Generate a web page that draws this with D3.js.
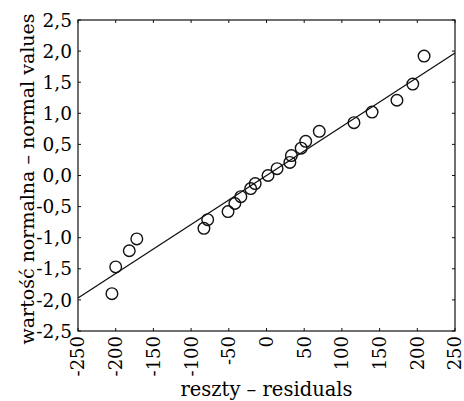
<!DOCTYPE html>
<html>
<head>
<meta charset="utf-8">
<script src="https://cdn.jsdelivr.net/npm/d3@7"></script>
<style>
  body { margin: 0; background: #fff; }
  text { font-family: "DejaVu Serif", serif; fill: #000; }
</style>
</head>
<body>
<div id="chart"></div>
<script>
// residuals vs expected normal values
var residuals = [-205, -200, -182, -172, -83, -78, -51, -42, -34, -21, -15, 2, 14, 31, 33, 46, 52, 70, 116, 140, 173, 194, 209];
var normalVals = [-1.90, -1.47, -1.21, -1.02, -0.85, -0.71, -0.58, -0.45, -0.34, -0.21, -0.13, 0.0, 0.11, 0.21, 0.32, 0.44, 0.55, 0.71, 0.85, 1.02, 1.21, 1.47, 1.92];
var fitLine = [[-250, -1.97], [250, 1.97]];
var xTicks = [-250, -200, -150, -100, -50, 0, 50, 100, 150, 200, 250];
var yTicks = [-2.5, -2, -1.5, -1, -0.5, 0, 0.5, 1, 1.5, 2, 2.5];

var width = 464, height = 401;
var margin = {top: 20, right: 9, bottom: 70, left: 78};

var svg = d3.select("#chart").append("svg").attr("width", width).attr("height", height);

var x = d3.scaleLinear().domain([-250, 250]).range([margin.left, width - margin.right]);
var y = d3.scaleLinear().domain([-2.5, 2.5]).range([height - margin.bottom, margin.top]);

var fmtY = function(d) { return d3.format(".1f")(d).replace(".", ",").replace("−", "-"); };

// frame
svg.append("rect")
    .attr("x", x(-250)).attr("y", y(2.5))
    .attr("width", x(250) - x(-250)).attr("height", y(-2.5) - y(2.5))
    .attr("fill", "none").attr("stroke", "#111").attr("stroke-width", 1.2);

// inward ticks on all sides
var tk = 3;
svg.selectAll(".tb").data(xTicks).enter().append("line")
    .attr("x1", d => x(d)).attr("x2", d => x(d))
    .attr("y1", y(-2.5)).attr("y2", y(-2.5) - tk)
    .attr("stroke", "#111");
svg.selectAll(".tt").data(xTicks).enter().append("line")
    .attr("x1", d => x(d)).attr("x2", d => x(d))
    .attr("y1", y(2.5)).attr("y2", y(2.5) + tk)
    .attr("stroke", "#111");
svg.selectAll(".tl").data(yTicks).enter().append("line")
    .attr("x1", x(-250)).attr("x2", x(-250) + tk)
    .attr("y1", d => y(d)).attr("y2", d => y(d))
    .attr("stroke", "#111");
svg.selectAll(".tr").data(yTicks).enter().append("line")
    .attr("x1", x(250)).attr("x2", x(250) - tk)
    .attr("y1", d => y(d)).attr("y2", d => y(d))
    .attr("stroke", "#111");

// y tick labels
svg.selectAll(".yl").data(yTicks).enter().append("text")
    .attr("x", x(-250) - 6).attr("y", d => y(d))
    .attr("dy", "0.36em")
    .attr("text-anchor", "end")
    .attr("font-size", 18.5)
    .text(fmtY);

// x tick labels, rotated
svg.selectAll(".xl").data(xTicks).enter().append("text")
    .attr("transform", d => "translate(" + x(d) + "," + (y(-2.5) + 5) + ") rotate(-90)")
    .attr("dy", "0.36em")
    .attr("text-anchor", "end")
    .attr("font-size", 18)
    .text(d => d);

// axis titles
svg.append("text")
    .attr("x", x(0)).attr("y", 396)
    .attr("text-anchor", "middle")
    .attr("font-size", 19.5)
    .text("reszty – residuals");

svg.append("text")
    .attr("transform", "translate(34," + 179 + ") rotate(-90)")
    .attr("text-anchor", "middle")
    .attr("font-size", 19)
    .text("wartość normalna – normal values");

// fitted line
svg.append("path")
    .datum(fitLine)
    .attr("d", d3.line().x(d => x(d[0])).y(d => y(d[1])))
    .attr("stroke", "#111").attr("stroke-width", 1.3).attr("fill", "none");

// points
svg.selectAll(".pt").data(residuals).enter().append("circle")
    .attr("cx", d => x(d))
    .attr("cy", (d, i) => y(normalVals[i]))
    .attr("r", 5.8)
    .attr("fill", "none").attr("stroke", "#111").attr("stroke-width", 1.4);
</script>
</body>
</html>
